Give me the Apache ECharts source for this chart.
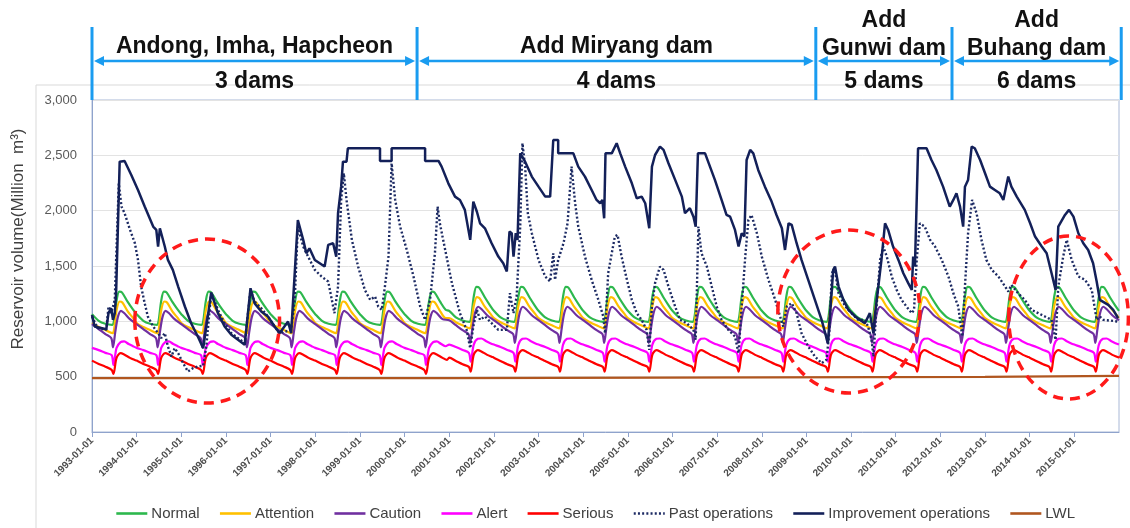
<!DOCTYPE html>
<html>
<head>
<meta charset="utf-8">
<script src="https://cdn.jsdelivr.net/npm/echarts@6.0.0/dist/echarts.min.js"></script>
<style>
  html, body { margin: 0; padding: 0; background: #fff; }
  #chart { width: 1130px; height: 528px; }
</style>
</head>
<body>
<div id="chart"></div>
<script>
const chart = echarts.init(document.getElementById('chart'));

// Reihen-Namen (Legende)
const seriesNames = ['Normal', 'Attention', 'Caution', 'Alert', 'Serious',
                     'Past operations', 'Improvement operations', 'LWL'];

// Jährliche Regelkurven [Jahresanteil, Volumen] – bis 2000 und ab 2001
const RULE_SWITCH_YEAR = 2001;
const normalA    = [[0.00,1065],[0.15,1005],[0.30,978],[0.45,968],[0.49,1000],[0.55,1185],[0.61,1268],[0.67,1262],[0.80,1175],[0.92,1105]];
const normalB    = [[0.00,1095],[0.15,1035],[0.30,1008],[0.45,995],[0.49,1030],[0.55,1225],[0.61,1312],[0.67,1305],[0.80,1215],[0.92,1140]];
const attentionA = [[0.00,985],[0.15,948],[0.30,922],[0.46,893],[0.49,915],[0.55,1100],[0.62,1179],[0.68,1170],[0.80,1090],[0.92,1030]];
const attentionB = [[0.00,1030],[0.15,992],[0.30,965],[0.46,937],[0.49,960],[0.55,1140],[0.62,1218],[0.68,1208],[0.80,1130],[0.92,1070]];
const cautionA   = [[0.00,975],[0.15,930],[0.30,885],[0.43,850],[0.47,765],[0.52,900],[0.58,1040],[0.65,1095],[0.72,1075],[0.85,1020]];
const cautionB   = [[0.00,1010],[0.15,965],[0.30,920],[0.43,885],[0.47,805],[0.52,940],[0.58,1080],[0.65,1132],[0.72,1112],[0.85,1055]];
const alertA     = [[0.00,760],[0.15,740],[0.30,715],[0.44,695],[0.48,605],[0.55,760],[0.64,812],[0.72,818],[0.82,795],[0.92,775]];
const alertB     = [[0.00,790],[0.15,768],[0.30,742],[0.44,715],[0.48,635],[0.55,790],[0.64,842],[0.72,845],[0.82,822],[0.92,803]];
const seriousA   = [[0.00,645],[0.15,615],[0.30,590],[0.44,562],[0.48,526],[0.55,670],[0.64,712],[0.72,700],[0.85,670],[0.95,652]];
const seriousB   = [[0.00,672],[0.15,642],[0.30,612],[0.44,588],[0.48,545],[0.55,700],[0.64,740],[0.72,728],[0.85,697],[0.95,680]];

// Untere Wasserspiegelgrenze
const lwl = [[1993,487],[2001,487],[2001,499],[2013,499],[2013,508],[2016,508]];

// Verbesserter Betrieb [Jahr, Mio. m³]
const improvementOps = [
  [1993.00,1058],[1993.06,953],[1993.32,929],[1993.37,1074],[1993.43,1119],[1993.47,1013],[1993.51,1074],[1993.54,1254],
  [1993.62,2443],[1993.73,2449],[1993.88,2323],[1994.03,2187],[1994.18,2037],[1994.37,1856],[1994.44,1826],[1994.48,1676],
  [1994.52,1841],[1994.63,1676],[1994.70,1555],[1994.81,1465],[1994.93,1314],[1995.08,1134],[1995.22,983],[1995.37,863],
  [1995.49,757],[1995.67,1260],[1995.82,1074],[1995.97,953],[1996.12,878],[1996.27,833],[1996.42,788],[1996.55,1299],
  [1996.64,1164],[1996.79,1089],[1996.94,1044],[1997.09,953],[1997.20,893],[1997.39,998],[1997.46,893],[1997.54,1435],
  [1997.61,1916],[1997.73,1736],[1997.80,1615],[1997.87,1660],[1997.99,1555],[1998.21,1495],[1998.29,1691],[1998.40,1706],
  [1998.47,1585],[1998.51,1977],[1998.58,2217],[1998.62,2443],[1998.70,2443],[1998.73,2564],[1999.45,2564],[1999.45,2449],
  [1999.71,2449],[1999.71,2564],[2000.46,2564],[2000.46,2449],[2000.76,2449],[2000.83,2398],[2000.98,2247],[2001.13,2127],
  [2001.24,2097],[2001.35,2007],[2001.47,1736],[2001.54,2082],[2001.62,1990],[2001.69,1886],[2001.80,1841],[2001.95,1706],
  [2002.10,1585],[2002.21,1525],[2002.29,1450],[2002.35,1811],[2002.40,1796],[2002.44,1585],[2002.49,1796],[2002.53,1736],
  [2002.59,2518],[2002.70,2443],[2002.85,2308],[2003.00,2217],[2003.15,2127],[2003.26,2127],[2003.33,2639],[2003.44,2639],
  [2003.44,2518],[2003.78,2518],[2003.89,2398],[2004.04,2308],[2004.19,2187],[2004.30,2097],[2004.38,2067],[2004.43,2097],
  [2004.47,1931],[2004.50,2518],[2004.64,2518],[2004.75,2609],[2004.83,2518],[2004.94,2398],[2005.09,2247],[2005.20,2112],
  [2005.31,2127],[2005.39,2067],[2005.48,1841],[2005.54,2398],[2005.61,2503],[2005.72,2579],[2005.80,2549],[2005.91,2428],
  [2006.06,2278],[2006.21,2127],[2006.28,1977],[2006.39,2022],[2006.47,1946],[2006.52,1856],[2006.57,2518],[2006.73,2518],
  [2006.84,2398],[2006.95,2278],[2007.10,2097],[2007.21,1961],[2007.29,1946],[2007.40,1826],[2007.48,1676],[2007.55,1796],
  [2007.61,1766],[2007.66,2458],[2007.74,2549],[2007.81,2518],[2007.92,2368],[2008.07,2217],[2008.22,2082],[2008.33,1961],
  [2008.45,1841],[2008.52,1645],[2008.60,1886],[2008.67,1871],[2008.78,1706],[2008.89,1555],[2009.04,1375],[2009.19,1194],
  [2009.34,1013],[2009.48,803],[2009.53,1074],[2009.60,1465],[2009.64,1495],[2009.72,1314],[2009.83,1194],[2009.94,1104],
  [2010.09,1044],[2010.20,1013],[2010.31,983],[2010.42,1074],[2010.50,893],[2010.53,1044],[2010.61,1314],[2010.68,1555],
  [2010.76,1886],[2010.83,1826],[2010.94,1676],[2011.06,1555],[2011.17,1435],[2011.28,1345],[2011.36,1284],[2011.39,1585],
  [2011.43,1495],[2011.50,2564],[2011.69,2564],[2011.80,2458],[2011.91,2368],[2012.06,2217],[2012.21,2037],[2012.29,2097],
  [2012.36,2157],[2012.44,2037],[2012.51,1856],[2012.55,2217],[2012.62,2278],[2012.70,2579],[2012.77,2564],[2012.89,2458],
  [2013.00,2338],[2013.11,2217],[2013.22,2187],[2013.33,2157],[2013.41,2097],[2013.52,2308],[2013.59,2217],[2013.71,2127],
  [2013.89,2007],[2014.01,1886],[2014.12,1766],[2014.27,1676],[2014.38,1615],[2014.49,1435],[2014.58,1284],[2014.64,1856],
  [2014.79,1961],[2014.88,2007],[2014.98,1946],[2015.09,1796],[2015.20,1706],[2015.31,1645],[2015.42,1525],[2015.50,1360],
  [2015.57,1194],[2015.76,1149],[2015.87,1104],[2015.98,1028]
];

// Bisheriger Betrieb [Jahr, Mio. m³]
const pastOps = [
  [1993.00,1044],[1993.13,938],[1993.32,923],[1993.37,1134],[1993.43,1074],[1993.51,1194],[1993.54,1555],[1993.60,2247],
  [1993.66,2037],[1993.73,1977],[1993.84,1841],[1993.96,1706],[1994.03,1555],[1994.10,1314],[1994.18,1164],[1994.25,1044],
  [1994.37,953],[1994.48,893],[1994.55,848],[1994.63,893],[1994.70,773],[1994.78,682],[1994.85,757],[1994.93,712],
  [1995.04,622],[1995.15,547],[1995.26,577],[1995.37,592],[1995.49,598],[1995.56,773],[1995.67,1260],[1995.82,1104],
  [1995.97,983],[1996.12,893],[1996.27,848],[1996.42,803],[1996.55,1284],[1996.64,1179],[1996.79,1119],[1996.94,1044],
  [1997.09,953],[1997.20,893],[1997.46,923],[1997.54,1194],[1997.61,1856],[1997.73,1676],[1997.84,1585],[1997.99,1465],
  [1998.14,1405],[1998.29,1360],[1998.43,1074],[1998.51,1314],[1998.58,2097],[1998.64,2338],[1998.70,2097],[1998.82,1736],
  [1998.96,1495],[1999.11,1284],[1999.23,1194],[1999.34,1224],[1999.41,1134],[1999.49,1104],[1999.56,1314],[1999.64,1585],
  [1999.71,2428],[1999.79,2097],[1999.90,1856],[2000.05,1645],[2000.20,1405],[2000.35,1134],[2000.46,1013],[2000.57,1194],
  [2000.68,1615],[2000.74,2037],[2000.79,1886],[2000.91,1645],[2001.06,1345],[2001.24,1074],[2001.39,923],[2001.47,757],
  [2001.54,953],[2001.62,1104],[2001.69,1013],[2001.80,1044],[2001.95,983],[2002.10,923],[2002.29,923],[2002.36,1254],
  [2002.44,1074],[2002.51,1224],[2002.59,1856],[2002.64,2609],[2002.70,2398],[2002.76,1977],[2002.85,1796],[2003.00,1555],
  [2003.15,1405],[2003.26,1360],[2003.33,1615],[2003.37,1375],[2003.44,1555],[2003.56,1706],[2003.65,1886],[2003.74,2398],
  [2003.82,2067],[2003.89,1856],[2004.04,1585],[2004.19,1375],[2004.34,1194],[2004.45,1044],[2004.49,893],[2004.56,1435],
  [2004.64,1615],[2004.71,1766],[2004.77,1781],[2004.86,1585],[2004.98,1375],[2005.09,1194],[2005.20,1074],[2005.31,1013],
  [2005.42,923],[2005.48,742],[2005.54,1134],[2005.61,1345],[2005.72,1495],[2005.80,1465],[2005.91,1314],[2006.06,1134],
  [2006.17,1013],[2006.32,983],[2006.47,923],[2006.52,833],[2006.58,1856],[2006.65,1615],[2006.77,1495],[2006.88,1314],
  [2006.99,1134],[2007.10,1013],[2007.25,923],[2007.40,863],[2007.48,712],[2007.55,1134],[2007.63,1585],[2007.70,1916],
  [2007.77,1961],[2007.89,1796],[2008.00,1585],[2008.15,1375],[2008.30,1194],[2008.41,1044],[2008.48,953],[2008.56,1134],
  [2008.67,1164],[2008.78,1074],[2008.89,893],[2009.04,773],[2009.19,682],[2009.34,622],[2009.45,652],[2009.51,893],
  [2009.57,1435],[2009.63,1480],[2009.72,1254],[2009.87,1134],[2010.01,1074],[2010.16,1013],[2010.31,1013],[2010.38,953],
  [2010.46,833],[2010.50,682],[2010.57,1134],[2010.65,1555],[2010.72,1676],[2010.80,1585],[2010.91,1405],[2011.02,1284],
  [2011.13,1194],[2011.24,1134],[2011.36,1074],[2011.41,1104],[2011.47,1555],[2011.54,1886],[2011.65,1856],[2011.77,1736],
  [2011.88,1676],[2012.03,1555],[2012.18,1405],[2012.29,1254],[2012.40,1134],[2012.49,863],[2012.55,1314],[2012.62,1796],
  [2012.71,2097],[2012.81,1977],[2012.92,1736],[2013.03,1555],[2013.15,1465],[2013.30,1405],[2013.45,1314],[2013.52,1269],
  [2013.59,1329],[2013.74,1254],[2013.89,1194],[2014.04,1104],[2014.19,1074],[2014.34,1044],[2014.49,1013],[2014.58,833],
  [2014.64,1314],[2014.75,1585],[2014.83,1736],[2014.94,1555],[2015.09,1405],[2015.24,1375],[2015.39,1284],[2015.50,1013],
  [2015.57,1044],[2015.65,1013],[2015.80,1007],[2015.98,998]
];

// Dammperioden (Beginn in Jahren) und Beschriftungen
const periodBounds = [1993.0, 2000.28, 2009.21, 2012.26, 2016.05];
const periodTitles = [['Andong, Imha, Hapcheon'], ['Add Miryang dam'], ['Add', 'Gunwi dam'], ['Add', 'Buhang dam']];
const periodDams   = ['3 dams', '4 dams', '5 dams', '6 dams'];

// Markierungen [Mitte Jahr, Mitte Volumen, halbe Breite (Jahre), halbe Höhe (Mio. m³)]
const highlights = [[1995.58, 1003, 1.62, 741], [2009.95, 1089, 1.59, 736], [2014.87, 1035, 1.34, 736]];

const COLORS = ['#2db84d', '#ffc000', '#7030a0', '#ff00ff', '#ff0000', '#1c2a63', '#132059', '#b0561f'];
const FONT = 'Liberation Sans, Arial, sans-serif';

function ruleCurve(shapeA, shapeB) {
    const pts = [];
    for (let y = 1993; y < 2016; y++) {
        const shape = y < RULE_SWITCH_YEAR ? shapeA : shapeB;
        shape.forEach(([f, v]) => pts.push([y + f, v]));
    }
    pts.push([2016, shapeB[0][1]]);
    return pts;
}

const lineSeries = (i, data, extra) => Object.assign({
    name: seriesNames[i], type: 'line', data, symbol: 'none', showSymbol: false,
    color: COLORS[i], lineStyle: { width: 2.2, color: COLORS[i] }, animation: false
}, extra || {});

chart.setOption({
    backgroundColor: '#fff',
    textStyle: { fontFamily: FONT },
    grid: { left: 92, right: 11, top: 100, bottom: 96, show: true, borderColor: '#a9b8d6', borderWidth: 1 },
    legend: {
        data: seriesNames, left: 110, top: 501, itemWidth: 31, itemHeight: 14, itemGap: 19,
        itemStyle: { opacity: 0 },
        lineStyle: { width: 2.6 },
        textStyle: { fontSize: 15, color: '#404040', fontFamily: FONT, padding: [0, 0, 0, -1] }
    },
    xAxis: {
        type: 'value', min: 1993, max: 2016, interval: 1,
        axisLine: { lineStyle: { color: '#8fa3cc' } },
        axisTick: { show: true, length: 5, lineStyle: { color: '#8fa3cc' } },
        splitLine: { show: false },
        axisLabel: {
            rotate: 45, fontSize: 10, fontWeight: 'bold', color: '#4d4d4d', margin: 7,
            showMaxLabel: false, formatter: v => v + '-01-01'
        }
    },
    yAxis: {
        type: 'value', min: 0, max: 3000, interval: 500,
        axisLine: { show: true, lineStyle: { color: '#8fa3cc' } },
        axisTick: { show: false },
        splitLine: { lineStyle: { color: '#e3e3e3' } },
        axisLabel: { fontSize: 13, color: '#595959', margin: 15, formatter: v => v.toLocaleString('en-US') }
    },
    series: [
        lineSeries(0, ruleCurve(normalA, normalB), { smooth: 0.3 }),
        lineSeries(1, ruleCurve(attentionA, attentionB), { smooth: 0.3 }),
        lineSeries(2, ruleCurve(cautionA, cautionB), { smooth: 0.3 }),
        lineSeries(3, ruleCurve(alertA, alertB), { smooth: 0.3 }),
        lineSeries(4, ruleCurve(seriousA, seriousB), { smooth: 0.3 }),
        lineSeries(5, pastOps, { lineStyle: { width: 2.4, color: COLORS[5], type: [2, 2.2] } }),
        lineSeries(6, improvementOps, { lineStyle: { width: 2.5, color: COLORS[6] } }),
        lineSeries(7, lwl, { lineStyle: { width: 2.2, color: COLORS[7] } })
    ]
});

// Anmerkungen oberhalb des Diagramms und Markierungen
const px = t => chart.convertToPixel({ xAxisIndex: 0 }, t);
const py = v => chart.convertToPixel({ yAxisIndex: 0 }, v);
const BLUE = '#1a9cf0';
const graphics = [
    { type: 'rect', shape: { x: 36, y: 85, width: 1100, height: 500 }, style: { fill: 'none', stroke: '#d9d9d9', lineWidth: 1 }, z: 0 }
];
const bx = periodBounds.map(px);
bx.forEach(x => graphics.push({
    type: 'line', shape: { x1: x, y1: 27, x2: x, y2: 100 }, style: { stroke: BLUE, lineWidth: 3 }, z: 10
}));
const headText = (text, x, y) => ({
    type: 'text', z: 11,
    style: { text, x, y, align: 'center', verticalAlign: 'middle', fill: '#111',
             font: 'bold 23px ' + FONT }
});
periodDams.forEach((d, i) => {
    const x1 = bx[i] + 2, x2 = bx[i + 1] - 2, ay = 61, cx = (bx[i] + bx[i + 1]) / 2;
    graphics.push({ type: 'line', shape: { x1: x1 + 4, y1: ay, x2: x2 - 4, y2: ay }, style: { stroke: BLUE, lineWidth: 2.5 }, z: 10 });
    graphics.push({ type: 'polygon', shape: { points: [[x1, ay], [x1 + 10, ay - 5], [x1 + 10, ay + 5]] }, style: { fill: BLUE }, z: 10 });
    graphics.push({ type: 'polygon', shape: { points: [[x2, ay], [x2 - 10, ay - 5], [x2 - 10, ay + 5]] }, style: { fill: BLUE }, z: 10 });
    const lines = periodTitles[i];
    const ys = lines.length === 1 ? [47] : [21, 49];
    lines.forEach((l, k) => graphics.push(headText(l, cx, ys[k])));
    graphics.push(headText(d, cx, 82));
});
highlights.forEach(([t, v, hw, hh]) => {
    const cx = px(t), cy = py(v);
    graphics.push({
        type: 'ellipse', z: 20,
        shape: { cx, cy, rx: px(t + hw) - cx, ry: cy - py(v + hh) },
        style: { fill: 'none', stroke: '#ff1a1a', lineWidth: 3.5, lineDash: [10, 7] }
    });
});
graphics.push({
    type: 'text', z: 11, x: 18, y: 239, rotation: Math.PI / 2,
    style: { text: 'Reservoir volume(Million  m³)', x: 0, y: 0, align: 'center', verticalAlign: 'middle',
             fill: '#404040', font: '17px ' + FONT }
});
chart.setOption({ graphic: graphics });
</script>
</body>
</html>
